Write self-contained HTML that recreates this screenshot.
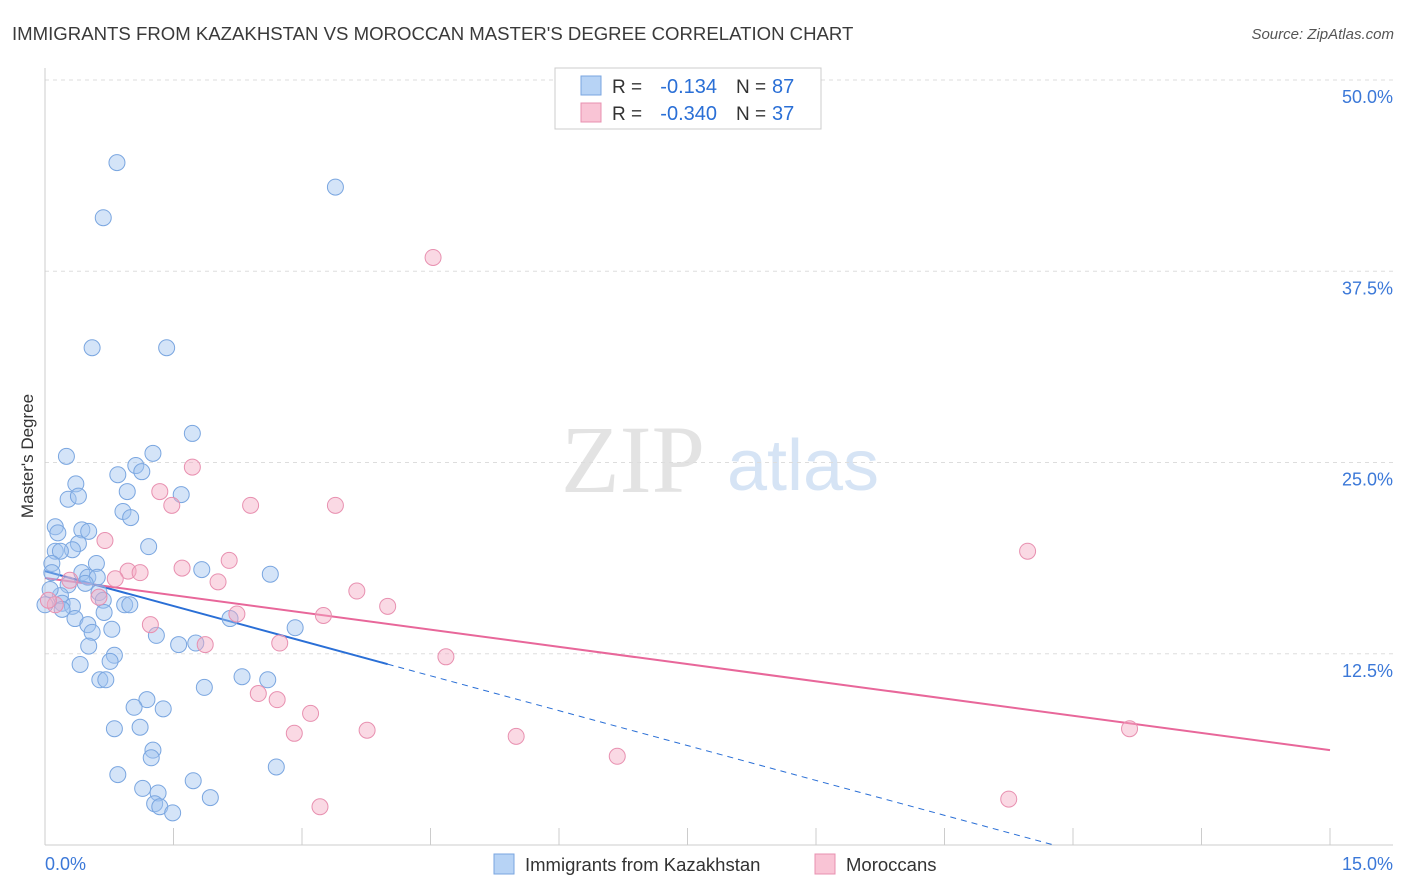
<!DOCTYPE html>
<html><head><meta charset="utf-8"><style>
body{margin:0;background:#fff;font-family:"Liberation Sans",sans-serif;}
svg{display:block}
</style></head><body>
<svg id="chart" width="1406" height="892">
<text x="12" y="40" font-size="18.6" fill="#3a3a3a">IMMIGRANTS FROM KAZAKHSTAN VS MOROCCAN MASTER'S DEGREE CORRELATION CHART</text>
<text x="1394" y="39" font-size="15" fill="#555" font-style="italic" text-anchor="end">Source: ZipAtlas.com</text>
<text x="33" y="456" font-size="17" fill="#333" text-anchor="middle" transform="rotate(-90 33 456)">Master's Degree</text>
<g>
<text x="633" y="492" font-size="96" fill="#e3e3e3" font-family="Liberation Serif,serif" text-anchor="middle">ZIP</text>
<text x="803" y="490" font-size="72" fill="#d6e4f5" text-anchor="middle">atlas</text>
</g>
<g id="grid"></g><g id="axes"></g><g id="lines"></g><g id="pts"></g>
<g>
<rect x="555" y="68" width="266" height="61" fill="#fff" stroke="#ccc"/>
<rect x="581" y="76" width="20" height="19" fill="#b7d3f5" stroke="#7aa6e0"/>
<rect x="581" y="103" width="20" height="19" fill="#f9c4d5" stroke="#e890b0"/>
<text x="612" y="93" font-size="19" fill="#333">R =</text>
<text x="717" y="93" font-size="20" fill="#2a6fd6" text-anchor="end">-0.134</text>
<text x="736" y="93" font-size="19" fill="#333">N =</text>
<text x="772" y="93" font-size="20" fill="#2a6fd6">87</text>
<text x="612" y="120" font-size="19" fill="#333">R =</text>
<text x="717" y="120" font-size="20" fill="#2a6fd6" text-anchor="end">-0.340</text>
<text x="736" y="120" font-size="19" fill="#333">N =</text>
<text x="772" y="120" font-size="20" fill="#2a6fd6">37</text>
</g>
<g>
<rect x="494" y="854" width="20" height="20" fill="#b7d3f5" stroke="#7aa6e0"/>
<text x="525" y="871" font-size="18.5" fill="#333">Immigrants from Kazakhstan</text>
<rect x="815" y="854" width="20" height="20" fill="#f9c4d5" stroke="#e890b0"/>
<text x="846" y="871" font-size="18.5" fill="#333">Moroccans</text>
</g>
</svg>
<script>
const yTicks=[12.5,25,37.5,50];
const yTickLabels=["12.5%","25.0%","37.5%","50.0%"];
const xTicks=[0,1.5,3,4.5,6,7.5,9,10.5,12,13.5,15];
const blueX=[0.84,0.68,3.39,0.55,1.42,1.72,0.25,1.26,1.06,0.85,1.13,0.36,0.96,1.59,0.27,0.39,0.91,1.00,0.12,0.43,0.51,0.15,0.39,1.21,0.32,0.12,0.18,0.08,0.60,0.43,0.08,1.83,2.63,0.50,0.61,0.47,0.27,0.63,0.18,0.68,0.20,0.93,0.99,0.32,0.69,0.35,2.16,0.50,0.55,0.78,2.92,1.30,0.51,1.56,1.76,0.81,0.76,0.41,0.64,0.71,2.30,2.60,1.86,1.19,1.38,1.04,0.81,1.11,1.26,1.24,2.70,0.85,1.73,1.14,1.32,1.93,1.28,1.34,1.49,0.0,0.06,0.2];
const blueY=[44.6,41.0,43.0,32.5,32.5,26.9,25.4,25.6,24.8,24.2,24.4,23.6,23.1,22.9,22.6,22.8,21.8,21.4,20.8,20.6,20.5,20.4,19.7,19.5,19.3,19.2,19.2,18.4,18.4,17.8,17.8,18.0,17.7,17.5,17.5,17.1,17.0,16.5,16.3,16.0,15.8,15.7,15.7,15.6,15.2,14.8,14.8,14.4,13.9,14.1,14.2,13.7,13.0,13.1,13.2,12.4,12.0,11.8,10.8,10.8,11.0,10.8,10.3,9.5,8.9,9.0,7.6,7.7,6.2,5.7,5.1,4.6,4.2,3.7,3.4,3.1,2.7,2.5,2.1,15.7,16.7,15.4];
const pinkX=[4.53,1.72,1.34,1.48,2.40,3.39,0.70,2.15,0.97,1.60,1.11,2.02,0.82,3.64,4.00,2.24,3.25,1.23,0.63,1.87,2.74,4.68,2.49,2.71,3.10,2.91,3.76,5.50,6.68,3.21,11.25,12.66,11.47,0.12,0.29,0.04];
const pinkY=[38.4,24.7,23.1,22.2,22.2,22.2,19.9,18.6,17.9,18.1,17.8,17.2,17.4,16.6,15.6,15.1,15.0,14.4,16.2,13.1,13.2,12.3,9.9,9.5,8.6,7.3,7.5,7.1,5.8,2.5,3.0,7.6,19.2,15.7,17.3,16.0];
const blueTrend=[17.9,-1.52];
const pinkTrend=[17.45,-0.75];
const NS="http://www.w3.org/2000/svg";
const X=v=>45+v*(1285/15), Y=v=>845-v*(765/50);
function mk(t,a,p){const e=document.createElementNS(NS,t);for(const k in a)e.setAttribute(k,a[k]);p.appendChild(e);return e;}
const grid=document.getElementById('grid'),axes=document.getElementById('axes');
yTicks.forEach((t,i)=>{
 const l=mk('line',{x1:45,x2:1393,y1:Y(t),y2:Y(t),stroke:'#ddd','stroke-dasharray':'4,4'},grid);
 
 
 const tx=mk('text',{x:1393,y:Y(t)+23,'font-size':18,fill:'#3b78d8','text-anchor':'end'},axes);
 tx.textContent=yTickLabels[i];
 
 
});
let al=mk('line',{x1:45,x2:45,y1:68,y2:845,stroke:'#ccc'},axes);


al=mk('line',{x1:45,x2:1393,y1:845,y2:845,stroke:'#ccc'},axes);


xTicks.forEach(t=>{const l=mk('line',{x1:X(t),x2:X(t),y1:828,y2:845,stroke:'#ccc'},axes);
 
 });
let t0=mk('text',{x:45,y:870,'font-size':18,fill:'#3b78d8'},axes);t0.textContent='0.0%';


t0=mk('text',{x:1393,y:870,'font-size':18,fill:'#3b78d8','text-anchor':'end'},axes);t0.textContent='15.0%';


const pts=document.getElementById('pts');
blueX.forEach((x,i)=>{const c=mk('circle',{cx:X(x),cy:Y(blueY[i]),r:8,fill:'rgba(160,196,240,0.45)',stroke:'#7aa6e0','stroke-width':1},pts);
 
 });
pinkX.forEach((x,i)=>{const c=mk('circle',{cx:X(x),cy:Y(pinkY[i]),r:8,fill:'rgba(245,170,195,0.45)',stroke:'#e890b0','stroke-width':1},pts);
 
 });
const lines=document.getElementById('lines');
const bx1=4.0, bx2=(0-blueTrend[0])/blueTrend[1];
let ln=mk('line',{x1:X(0),y1:Y(blueTrend[0]),x2:X(bx1),y2:Y(blueTrend[0]+blueTrend[1]*bx1),stroke:'#2a6fd6','stroke-width':2},lines);


ln=mk('line',{x1:X(bx1),y1:Y(blueTrend[0]+blueTrend[1]*bx1),x2:X(bx2),y2:Y(0),stroke:'#2a6fd6','stroke-width':1,'stroke-dasharray':'6,5'},lines);


ln=mk('line',{x1:X(0),y1:Y(pinkTrend[0]),x2:X(15),y2:Y(pinkTrend[0]+pinkTrend[1]*15),stroke:'#e8679a','stroke-width':2},lines);


</script>
</body></html>
